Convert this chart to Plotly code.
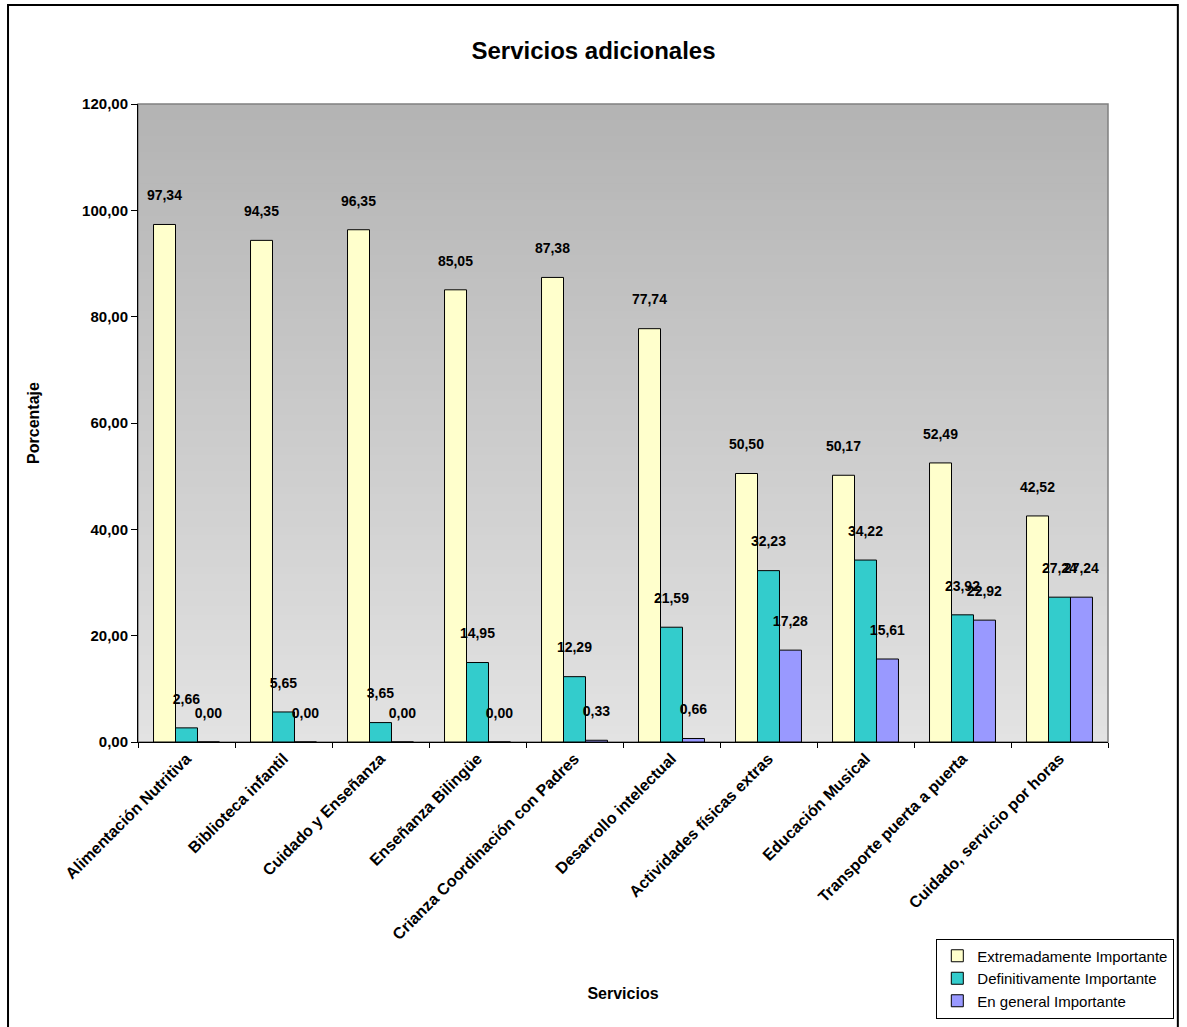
import plotly.graph_objects as go

# Survey results: importance rating of additional services (%)
servicios = [
    "Alimentación Nutritiva",
    "Biblioteca infantil",
    "Cuidado y Enseñanza",
    "Enseñanza Bilingüe",
    "Crianza Coordinación con Padres",
    "Desarrollo intelectual",
    "Actividades físicas extras",
    "Educación Musical",
    "Transporte puerta a puerta",
    "Cuidado, servicio por horas",
]
extremadamente = [97.34, 94.35, 96.35, 85.05, 87.38, 77.74, 50.50, 50.17, 52.49, 42.52]
definitivamente = [2.66, 5.65, 3.65, 14.95, 12.29, 21.59, 32.23, 34.22, 23.92, 27.24]
en_general = [0.00, 0.00, 0.00, 0.00, 0.33, 0.66, 17.28, 15.61, 22.92, 27.24]

series = [
    ("Extremadamente Importante", extremadamente, "#FFFFCC"),
    ("Definitivamente Importante", definitivamente, "#33CCCC"),
    ("En general Importante", en_general, "#9999FF"),
]

FONT = "Liberation Sans, Arial, sans-serif"

fig = go.Figure()
for name, vals, color in series:
    fig.add_trace(go.Bar(
        name=name,
        x=servicios,
        y=vals,
        marker=dict(color=color, line=dict(color="black", width=1)),
        texttemplate="<b>%{y:.2f}</b><br> ",
        textposition="outside",
        constraintext="none",
        textfont=dict(family=FONT, size=14, color="black"),
        cliponaxis=False,
    ))

# vertical grey gradient behind the bars (stripes overlap slightly to avoid seams)
n = 80
shapes = []
for i in range(n):
    t = i / (n - 1)
    c = int(180 + (227 - 180) * t)
    shapes.append(dict(
        type="rect", xref="x domain", yref="y domain",
        x0=0, x1=1, y0=max(0, 1 - (i + 1) / n - 0.004), y1=1 - i / n,
        fillcolor=f"rgb({c},{c},{c})", line=dict(width=0), layer="below",
    ))
# plot-area frame
shapes.append(dict(type="rect", xref="x domain", yref="y domain", x0=0, x1=1, y0=0, y1=1,
                   line=dict(color="#808080", width=1.5), layer="below"))
# outer chart frame
shapes.append(dict(type="rect", xref="paper", yref="paper", x0=-0.134, x1=1.072, y0=-0.46, y1=1.155,
                   line=dict(color="black", width=2)))

fig.update_layout(
    width=1187, height=1027,
    margin=dict(l=138, r=79, t=104, b=285, autoexpand=False),
    paper_bgcolor="white",
    plot_bgcolor="rgba(0,0,0,0)",
    separators=",.",
    barmode="group",
    bargap=0.32,
    bargroupgap=0,
    shapes=shapes,
    font=dict(family=FONT, color="black"),
    title=dict(text="<b>Servicios adicionales</b>", x=0.5, xanchor="center", y=0.951, yanchor="middle",
               font=dict(family=FONT, size=24, color="black")),
    xaxis=dict(
        tickangle=-45,
        tickfont=dict(family=FONT, size=16, color="black"),
        tickprefix="<b>", ticksuffix="</b>",
        showline=True, linecolor="black", linewidth=1,
        ticks="outside", ticklen=5, tickcolor="black", tickson="boundaries",
        title=dict(text="<b>Servicios</b>", font=dict(family=FONT, size=16), standoff=45),
        showgrid=False,
    ),
    yaxis=dict(
        range=[0, 120], dtick=20, tickformat=".2f",
        tickfont=dict(family=FONT, size=15, color="black"),
        tickprefix="<b>", ticksuffix="</b>",
        showline=True, linecolor="black", linewidth=1,
        ticks="outside", ticklen=6, tickcolor="black",
        showgrid=False, zeroline=False,
        title=dict(text="<b>Porcentaje</b>", font=dict(family=FONT, size=16), standoff=38),
    ),
    legend=dict(
        x=0.823, y=-0.308, xanchor="left", yanchor="top",
        bgcolor="white", bordercolor="black", borderwidth=1,
        font=dict(family=FONT, size=15, color="black"),
        tracegroupgap=0, itemwidth=30,
    ),
)

fig.write_html("out.html")
